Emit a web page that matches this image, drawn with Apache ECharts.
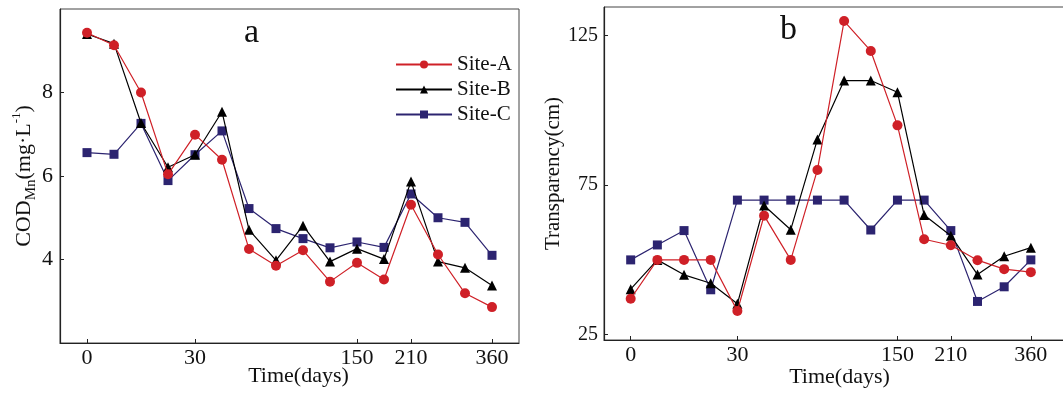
<!DOCTYPE html>
<html>
<head>
<meta charset="utf-8">
<script src="https://cdn.jsdelivr.net/npm/echarts@6/dist/echarts.min.js"></script>
<style>html,body{margin:0;padding:0;background:#fff}#c{width:1063px;height:393px}</style>
</head>
<body>
<div id="c"></div>
<script>
// sampling index 0..15; only some are labelled with days
const dayLabels = ['0','','','','30','','','','','','150','','210','','','360'];
const labelledIdx = [0, 4, 10, 12, 15];
const seriesNames = ['Site-A', 'Site-B', 'Site-C'];

// Panel a: COD_Mn (mg/L)
const codA = [9.43, 9.13, 8.0, 6.04, 6.99, 6.39, 4.25, 3.85, 4.22, 3.47, 3.92, 3.52, 5.31, 4.12, 3.19, 2.86];
const codB = [9.40, 9.17, 7.27, 6.21, 6.51, 7.54, 4.71, 3.98, 4.81, 3.95, 4.26, 4.01, 5.87, 3.95, 3.80, 3.38];
const codC = [6.56, 6.52, 7.26, 5.89, 6.51, 7.08, 5.22, 4.74, 4.50, 4.28, 4.42, 4.29, 5.57, 5.00, 4.89, 4.10];
const codTicks = [4, 6, 8];

// Panel b: Transparency (cm)
const trA = [37.0, 50, 50, 50, 32.9, 64.8, 50, 80.1, 129.9, 119.9, 95, 56.9, 54.9, 49.9, 46.9, 45.9];
const trB = [40.2, 50, 45, 42.2, 35.3, 68.2, 60.1, 90.3, 110, 110, 106.1, 65, 58.1, 45.1, 51.2, 54.1];
const trC = [50, 55, 59.8, 40, 70, 70, 70, 70, 70, 60, 70, 70, 59.8, 36.1, 41, 50];
const trTicks = [25, 75, 125];

const colors = ['#cf2027', '#000000', '#2c2470'];
const symbols = ['circle', 'triangle', 'rect'];
const symbolSizes = [10, 10, 9];
const FONT = 'Liberation Serif';

const toPairs = arr => arr.map((v, i) => [i, v]);

function xAxis(gridIndex, max, gap, shift) {
  return {
    type: 'value', gridIndex, min: -1, max,
    name: 'Time(days)', nameLocation: 'middle', nameGap: gap, nameMoveOverlap: false,
    nameTextStyle: {fontFamily: FONT, fontSize: 22, color: '#111', padding: [0, 0, 0, shift]},
    axisLine: {onZero: false, lineStyle: {color: '#222', width: 1.2}},
    axisTick: {inside: true, length: 4, customValues: labelledIdx, lineStyle: {color: '#222'}},
    axisLabel: {customValues: labelledIdx, formatter: v => dayLabels[v], fontFamily: FONT, fontSize: 22, color: '#111', margin: 4},
    splitLine: {show: false}
  };
}

const chart = echarts.init(document.getElementById('c'), null, {renderer: 'canvas'});
const series = [];
[[codA, codB, codC], [trA, trB, trC]].forEach((set, g) => {
  set.forEach((arr, k) => {
    series.push({
      name: seriesNames[k], type: 'line', xAxisIndex: g, yAxisIndex: g,
      data: toPairs(arr), symbol: symbols[k], symbolSize: symbolSizes[k],
      lineStyle: {color: colors[k], width: 1.2}, itemStyle: {color: colors[k]},
      z: 3 - k, animation: false
    });
  });
});

chart.setOption({
  animation: false,
  title: [
    {text: 'a', left: 239, top: 11, textStyle: {fontFamily: FONT, fontSize: 34, fontWeight: 'normal', color: '#111'}},
    {text: 'b', left: 775, top: 8, textStyle: {fontFamily: FONT, fontSize: 34, fontWeight: 'normal', color: '#111'}}
  ],
  legend: {
    data: seriesNames, orient: 'vertical', left: 390, top: 49,
    itemWidth: 56, itemHeight: 10, itemGap: 4,
    textStyle: {fontFamily: FONT, fontSize: 21, color: '#111'}
  },
  grid: [
    {left: 60, top: 9, width: 459, height: 334, show: true, borderColor: '#444', borderWidth: 1, containLabel: false, outerBoundsMode: 'none'},
    {left: 604, top: 7, width: 461, height: 333, show: true, borderColor: '#444', borderWidth: 1, containLabel: false, outerBoundsMode: 'none'}
  ],
  xAxis: [xAxis(0, 16, 22, 18), xAxis(1, 16.28, 26, 10)],
  yAxis: [
    {
      type: 'value', gridIndex: 0, min: 2, max: 10, interval: 2,
      name: 'COD{sub|Mn}(mg·L{sup|-1})', nameLocation: 'middle', nameGap: 24,
      nameTextStyle: {
        fontFamily: FONT, fontSize: 22, color: '#111', lineHeight: 28, verticalAlign: 'middle',
        rich: {
          sub: {fontFamily: FONT, fontSize: 15, color: '#111', lineHeight: 14, verticalAlign: 'bottom'},
          sup: {fontFamily: FONT, fontSize: 13, color: '#111', lineHeight: 12, verticalAlign: 'top'}
        }
      },
      axisLine: {show: true, onZero: false, lineStyle: {color: '#222', width: 1.2}},
      axisTick: {inside: true, length: 4, customValues: codTicks, lineStyle: {color: '#222'}},
      axisLabel: {customValues: codTicks, fontFamily: FONT, fontSize: 22, color: '#111', margin: 7},
      splitLine: {show: false}
    },
    {
      type: 'value', gridIndex: 1, min: 23.2, max: 134.6,
      name: 'Transparency(cm)', nameLocation: 'middle', nameGap: 38,
      nameTextStyle: {fontFamily: FONT, fontSize: 21, color: '#111'},
      axisLine: {show: true, onZero: false, lineStyle: {color: '#222', width: 1.2}},
      axisTick: {inside: true, length: 4, customValues: trTicks, lineStyle: {color: '#222'}},
      axisLabel: {customValues: trTicks, fontFamily: FONT, fontSize: 20, color: '#111', margin: 6},
      splitLine: {show: false}
    }
  ],
  series
});
</script>
</body>
</html>
